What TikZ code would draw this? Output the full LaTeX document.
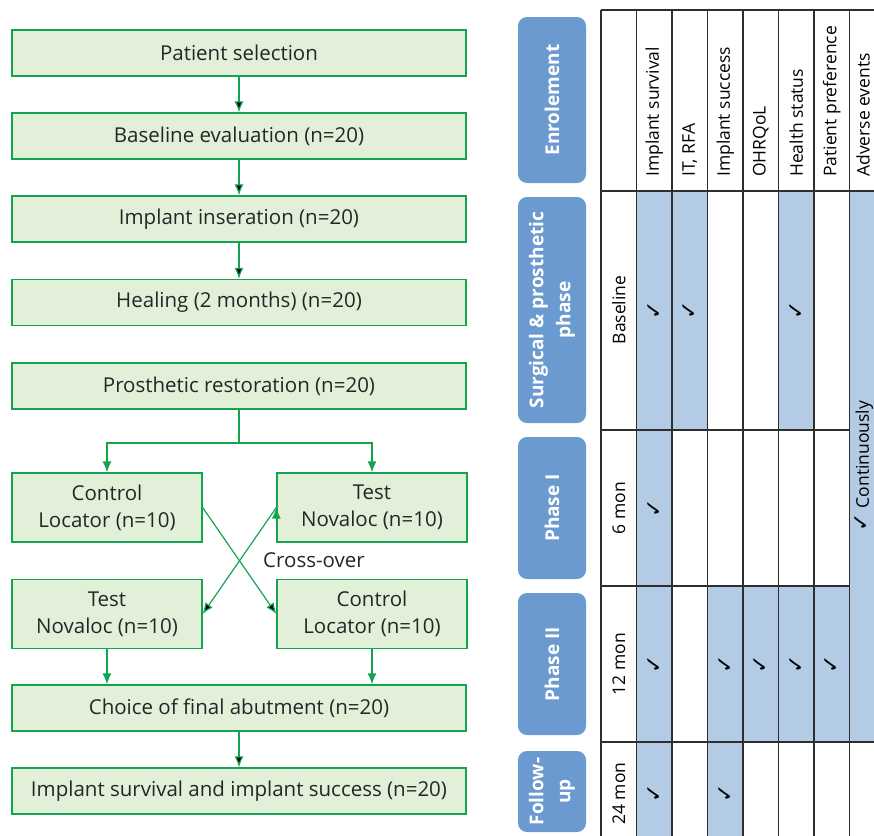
\documentclass[tikz,border=0pt]{standalone}
\usepackage{fontspec}
\setmainfont{Open Sans}
\newfontfamily\tickfont{DejaVu Sans}
\usepackage{xcolor}
\usepackage{tikz}
\usetikzlibrary{arrows.meta}

\definecolor{boxgreen}{HTML}{E2F0D9}
\definecolor{linegreen}{HTML}{16A34F}
\definecolor{phaseblue}{HTML}{6B9AD0}
\definecolor{cellblue}{HTML}{B4CBE5}
\definecolor{gridgray}{HTML}{2E2E2E}
\newcommand{\tick}{{\fontsize{22}{22}\tickfont ✓}}

\begin{document}
\begin{tikzpicture}[x=1pt,y=-1pt,
	flow/.style={draw=linegreen,fill=boxgreen,line width=1.3pt,inner sep=0pt,align=center,
		text=black!85,font=\fontsize{20.5}{27}\selectfont},
	wide/.style={flow,minimum width=454pt,minimum height=46pt},
	half/.style={flow,minimum width=190pt,minimum height=69pt},
	arr/.style={draw=linegreen,line width=1.2pt,-{Latex[length=11pt,width=9pt]}},
	phase/.style={fill=phaseblue,rounded corners=9pt,rotate=90,minimum height=68pt,inner sep=0pt,
		align=center,text=white,font=\fontsize{19}{27}\selectfont\bfseries},
	cell/.style={rotate=90,inner sep=0pt,font=\fontsize{17.5}{21}\selectfont},
	grid/.style={draw=gridgray,line width=1.3pt}]
		\useasboundingbox (0,0) rectangle (874,835);
		\clip (0,0) rectangle (874,835);
		%
		% flow chart
		\node[wide] (sel) at (239,53) {Patient selection};
		\node[wide] (base) at (239,136) {Baseline evaluation (n=20)};
		\node[wide] (ins) at (239,219) {Implant inseration (n=20)};
		\node[wide] (heal) at (239,302.5) {Healing (2 months) (n=20)};
		\node[wide] (rest) at (239,386) {Prosthetic restoration (n=20)};
		\node[half] (ctrlA) at (107,507.5) {Control\\Locator (n=10)};
		\node[half] (testA) at (372,507.5) {Test\\Novaloc (n=10)};
		\node[half] (testB) at (107,614) {Test\\Novaloc (n=10)};
		\node[half] (ctrlB) at (372,614) {Control\\Locator (n=10)};
		\node[wide] (choice) at (239,708) {Choice of final abutment (n=20)};
		\node[wide] (surv) at (239,791) {Implant survival and implant success (n=20)};
		\node[font=\fontsize{20.5}{24}\selectfont,text=black!85] (cross) at (314,560) {Cross-over};
		\coordinate (split) at (239,443);
		%
		\path[arr]
		(sel) edge (base)
		(base) edge (ins)
		(ins) edge (heal)
		(ctrlA.east) edge (ctrlB.west)
		(testA.west) edge (testB.east)
		(choice) edge (surv);
		\draw[arr] (rest.south) -- (split) -| (ctrlA);
		\draw[arr] (split) -| (testA);
		\draw[arr] (testB.south) -- (testB |- choice.north);
		\draw[arr] (ctrlB.south) -- (ctrlB |- choice.north);
		%
		% phases
		\node[phase,minimum width=166pt] (enr) at (552,100) {Enrolement};
		\node[phase,minimum width=226pt] (surg) at (552,310) {Surgical \& prosthetic\\phase};
		\node[phase,minimum width=142pt] (ph1) at (552,508) {Phase I};
		\node[phase,minimum width=142pt] (ph2) at (552,664) {Phase II};
		\node[phase,minimum width=81pt] (fol) at (552,791.5) {Follow-\\up};
		%
		% table: shaded cells with ticks
		\foreach \c/\ya/\yb in {1/191/430,2/191/430,5/191/430,1/430/586,1/586/742,3/586/742,
			4/586/742,5/586/742,6/586/742,1/742/845,3/742/845}{
			\fill[cellblue] ({601+35.5*\c},\ya) rectangle ({636.5+35.5*\c},\yb);
			\node[cell] (tick-\c-\ya) at ({618.75+35.5*\c},{(\ya+\yb)/2}) {\tick};
		}
		\fill[cellblue] (849.5,191) rectangle (885,742);
		\node[cell] (cont) at (864,466) {\tick\ Continuously};
		%
		\foreach \k in {0,...,7}
			\draw[grid] ({601+35.5*\k},10) -- ({601+35.5*\k},845);
		\draw[grid] (601,10) -- (885,10);
		\draw[grid] (601,191) -- (885,191);
		\draw[grid] (601,430) -- (849.5,430);
		\draw[grid] (601,586) -- (849.5,586);
		\draw[grid] (601,742) -- (885,742);
		%
		% headers and time points
		\foreach \c/\txt in {1/Implant survival,2/{IT, RFA},3/Implant success,4/OHRQoL,
			5/Health status,6/Patient preference}
			\node[cell,anchor=west] (head\c) at ({618.75+35.5*\c},177) {\txt};
		\node[cell,anchor=west] (head7) at (863,177) {Adverse events};
		\node[cell] (t0) at (618.75,310) {Baseline};
		\node[cell] (t6) at (618.75,508) {6 mon};
		\node[cell] (t12) at (618.75,664) {12 mon};
		\node[cell] (t24) at (618.75,793.5) {24 mon};
\end{tikzpicture}
\end{document}
